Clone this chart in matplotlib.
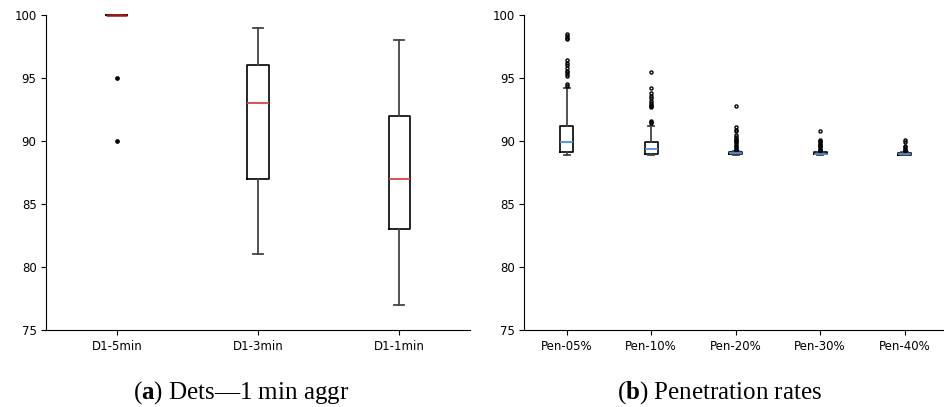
import matplotlib
matplotlib.use("Agg")
import matplotlib.pyplot as plt

plt.rcParams["mathtext.fontset"] = "custom"
plt.rcParams["mathtext.rm"] = "Liberation Serif"
plt.rcParams["mathtext.bf"] = "Liberation Serif:bold"

# ---- data (a) ----
cats_a = ["D1-5min", "D1-3min", "D1-1min"]
whislo_a = [100, 81, 77]
q1_a = [100, 87, 83]
med_a = [100, 93, 87]
q3_a = [100, 96, 92]
whishi_a = [100, 99, 98]
fliers_a = [[95, 90], [], []]

# ---- data (b) ----
cats_b = ["Pen-05%", "Pen-10%", "Pen-20%", "Pen-30%", "Pen-40%"]
whislo_b = [88.9, 88.9, 88.9, 88.9, 88.9]
q1_b = [89.1, 89.0, 88.95, 88.95, 88.92]
med_b = [89.9, 89.4, 89.05, 89.0, 88.98]
q3_b = [91.2, 89.9, 89.15, 89.1, 89.05]
whishi_b = [94.2, 91.2, 89.2, 89.15, 89.1]
fliers_b = [
    [94.4, 94.5, 95.2, 95.3, 95.5, 95.6, 95.8, 96.0, 96.2, 96.4, 98.1, 98.2, 98.3, 98.5],
    [91.4, 91.5, 91.6, 92.7, 92.8, 92.9, 93.0, 93.2, 93.4, 93.6, 93.8, 94.2, 95.5],
    [89.3, 89.4, 89.5, 89.6, 89.8, 89.9, 90.0, 90.1, 90.2, 90.3, 90.5, 90.8, 90.9, 91.1, 92.8],
    [89.2, 89.3, 89.4, 89.5, 89.6, 89.7, 89.8, 89.9, 90.0, 90.1, 90.8],
    [89.2, 89.3, 89.4, 89.5, 89.6, 89.9, 90.1],
]

yticks = [75, 80, 85, 90, 95, 100]


def make_stats(cats, lo, q1, med, q3, hi, fl):
    return [dict(label=c, whislo=a, q1=b, med=m, q3=d, whishi=e, fliers=f)
            for c, a, b, m, d, e, f in zip(cats, lo, q1, med, q3, hi, fl)]


fig = plt.figure(figsize=(9.45, 4.07), dpi=100)
ax1 = fig.add_axes([0.049, 0.189, 0.448, 0.774])
ax2 = fig.add_axes([0.555, 0.189, 0.447, 0.774])


def draw(ax, stats, medcolor, msize, mface):
    res = ax.bxp(stats, widths=0.15, showfliers=True,
                 boxprops=dict(color="black", linewidth=1.2),
                 whiskerprops=dict(color="#444444", linewidth=1.3),
                 capprops=dict(color="#444444", linewidth=1.3),
                 medianprops=dict(color=medcolor, linewidth=1.3, zorder=3),
                 flierprops=dict(marker="o", markersize=msize, markerfacecolor=mface,
                                 markeredgecolor="black", markeredgewidth=1.0))
    for key in ("medians", "boxes", "caps", "whiskers"):
        for art in res[key]:
            art.set_clip_on(False)
    ax.set_ylim(75, 100)
    ax.set_yticks(yticks)
    ax.spines["top"].set_visible(False)
    ax.spines["right"].set_visible(False)
    ax.tick_params(labelsize=8.5)
    return res


res_a = draw(ax1, make_stats(cats_a, whislo_a, q1_a, med_a, q3_a, whishi_a, fliers_a),
             "#d64545", 2.4, "black")
res_a["medians"][0].set_color("#a01515")
res_a["medians"][0].set_linewidth(1.8)
draw(ax2, make_stats(cats_b, whislo_b, q1_b, med_b, q3_b, whishi_b, fliers_b),
     "#4a90d9", 2.2, "none")

cap_font = ["Liberation Serif", "DejaVu Serif"]
fig.text(241 / 945, 1 - 393 / 407, r"($\mathbf{a}$) Dets—1 min aggr", ha="center", va="center",
         fontsize=18, family=cap_font)
fig.text(720 / 945, 1 - 393 / 407, r"($\mathbf{b}$) Penetration rates", ha="center", va="center",
         fontsize=18, family=cap_font)

fig.savefig("out.png", dpi=100)
